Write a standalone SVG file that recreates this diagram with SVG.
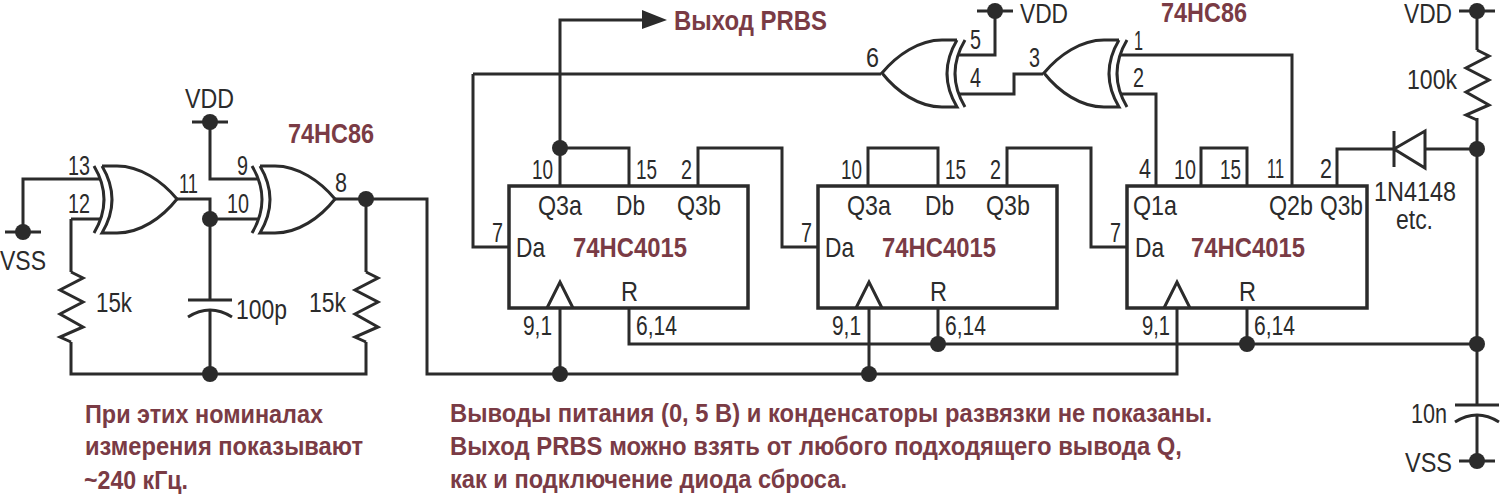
<svg xmlns="http://www.w3.org/2000/svg" width="1500" height="495" viewBox="0 0 1500 495">
<style>
text{font-family:"Liberation Sans",Arial,sans-serif;font-size:27.5px;fill:#2b2b2b}
.m{font-weight:bold;fill:#7a3b45;font-size:28px}
.n{font-weight:bold;fill:#7a3b45;font-size:26px}
.w,.s{fill:none;stroke:#2b2b2b;stroke-width:3;stroke-linejoin:miter}
.d{fill:#2b2b2b;stroke:none}
.b{fill:none;stroke:#2b2b2b;stroke-width:3.5}
</style>
<defs>
<g id="xor"><path class="w" d="M0,0H15C38,0 60,15 75,33C60,52 38,67 15,67H0Q20,33.5 0,0M-8,0Q12,33.5 -8,67"/></g>
<path id="res" class="w" d="M0,0L12,6L-11,18L12,30L-11,42L12,55L-11,65L0,70"/>
<g id="gnd"><path class="w" d="M-18,0H18"/><circle class="d" r="8"/></g>
<g id="cap"><path class="w" d="M-22,0H22M-22,17Q0,3 22,17"/></g>
</defs>

<g id="connectors">
<path class="w" d="M23,232V179H100M71,219H100M71,219V272M71,342V374H366V342M366,272V199"/>
<path class="w" d="M210,122V179H257M177,199H210V300M210,310V374M210,219H258"/>
<path class="w" d="M335,199H427V374H1177V308"/>
<path class="w" d="M560,374V308M869,374V308"/>
<path class="w" d="M473,74H881M473,74V247H509"/>
<path class="w" d="M560,186V20H645M560,148H629V186M698,186V148H782V247H818"/>
<path class="w" d="M868,186V148H938V186M1007,186V148H1091V247H1127"/>
<path class="w" d="M1201,186V148H1247V186"/>
<path class="w" d="M959,55H995V11M959,94H1014V74H1043M1121,55H1292V186M1121,94H1156V186"/>
<path class="w" d="M1337,186V149H1394M1425,149H1477"/>
<path class="w" d="M629,308V344H1477M938,308V344M1247,308V344"/>
<path class="w" d="M1477,11V50M1477,118V405M1477,415V461"/>
<polygon class="d" points="642,10 667,20 642,29"/>
<circle class="d" cx="210" cy="219" r="8"/>
<circle class="d" cx="210" cy="374" r="8"/>
<circle class="d" cx="366" cy="199" r="8"/>
<circle class="d" cx="560" cy="148" r="8"/>
<circle class="d" cx="560" cy="374" r="8"/>
<circle class="d" cx="869" cy="374" r="8"/>
<circle class="d" cx="938" cy="344" r="8"/>
<circle class="d" cx="1247" cy="344" r="8"/>
<circle class="d" cx="1477" cy="149" r="8"/>
<circle class="d" cx="1477" cy="344" r="8"/>
</g>

<g id="vss-left"><use href="#gnd" x="23" y="232"/><text x="0" y="270" textLength="46" lengthAdjust="spacingAndGlyphs">VSS</text></g>
<g id="vdd-left"><use href="#gnd" x="210" y="122"/><text x="185" y="108" textLength="49" lengthAdjust="spacingAndGlyphs">VDD</text></g>
<g id="vdd-top"><use href="#gnd" x="995" y="11"/><text x="1020" y="23" textLength="48" lengthAdjust="spacingAndGlyphs">VDD</text></g>
<g id="vdd-right"><use href="#gnd" x="1477" y="11"/><text x="1404" y="23" textLength="48" lengthAdjust="spacingAndGlyphs">VDD</text></g>
<g id="vss-right"><use href="#gnd" x="1477" y="461"/><text x="1405" y="472" textLength="47" lengthAdjust="spacingAndGlyphs">VSS</text></g>

<g id="xor-13-12">
<use href="#xor" x="102" y="166"/>
<text x="68" y="175" textLength="22" lengthAdjust="spacingAndGlyphs">13</text>
<text x="68" y="213" textLength="22" lengthAdjust="spacingAndGlyphs">12</text>
<text x="179" y="193" textLength="19" lengthAdjust="spacingAndGlyphs">11</text>
</g>
<g id="xor-9-10">
<use href="#xor" x="260" y="166"/>
<text x="237" y="175" textLength="11" lengthAdjust="spacingAndGlyphs">9</text>
<text x="227" y="213" textLength="22" lengthAdjust="spacingAndGlyphs">10</text>
<text x="335" y="192" textLength="12" lengthAdjust="spacingAndGlyphs">8</text>
<text class="m" x="288" y="143" textLength="86" lengthAdjust="spacingAndGlyphs">74HC86</text>
</g>
<g id="xor-5-4">
<use href="#xor" transform="translate(957,40) scale(-1,1)"/>
<text x="866" y="67" textLength="13" lengthAdjust="spacingAndGlyphs">6</text>
<text x="970" y="49" textLength="11" lengthAdjust="spacingAndGlyphs">5</text>
<text x="970" y="87" textLength="11" lengthAdjust="spacingAndGlyphs">4</text>
</g>
<g id="xor-1-2">
<use href="#xor" transform="translate(1119,40) scale(-1,1)"/>
<text x="1029" y="67" textLength="11" lengthAdjust="spacingAndGlyphs">3</text>
<text x="1134" y="50" textLength="9" lengthAdjust="spacingAndGlyphs">1</text>
<text x="1133" y="87" textLength="11" lengthAdjust="spacingAndGlyphs">2</text>
<text class="m" x="1161" y="22" textLength="86" lengthAdjust="spacingAndGlyphs">74HC86</text>
</g>

<g id="r1"><use href="#res" x="71" y="272"/><text x="96" y="312" textLength="36" lengthAdjust="spacingAndGlyphs">15k</text></g>
<g id="r2"><use href="#res" x="366" y="272"/><text x="309" y="312" textLength="37" lengthAdjust="spacingAndGlyphs">15k</text></g>
<g id="c1"><use href="#cap" x="210" y="300"/><text x="236" y="319" textLength="51" lengthAdjust="spacingAndGlyphs">100p</text></g>
<g id="r3"><use href="#res" x="1477" y="50"/><text x="1407" y="89" textLength="50" lengthAdjust="spacingAndGlyphs">100k</text></g>
<g id="c2"><use href="#cap" x="1477" y="405"/><text x="1411" y="423" textLength="36" lengthAdjust="spacingAndGlyphs">10n</text></g>
<g id="d1">
<path class="w" d="M1394,131V167M1425,131V168L1394,149Z"/>
<text x="1374" y="201" textLength="82" lengthAdjust="spacingAndGlyphs">1N4148</text>
<text x="1396" y="229" textLength="37" lengthAdjust="spacingAndGlyphs">etc.</text>
</g>

<g id="ic1">
<rect class="b" x="509" y="186" width="239" height="122"/>
<path class="w" d="M547,308L560,282L573,308"/>
<text x="532" y="179" textLength="21" lengthAdjust="spacingAndGlyphs">10</text>
<text x="636" y="179" textLength="21" lengthAdjust="spacingAndGlyphs">15</text>
<text x="681" y="179" textLength="11" lengthAdjust="spacingAndGlyphs">2</text>
<text x="538" y="215" textLength="44" lengthAdjust="spacingAndGlyphs">Q3a</text>
<text x="616" y="215" textLength="29" lengthAdjust="spacingAndGlyphs">Db</text>
<text x="677" y="215" textLength="44" lengthAdjust="spacingAndGlyphs">Q3b</text>
<text x="492" y="242" textLength="11" lengthAdjust="spacingAndGlyphs">7</text>
<text x="516" y="257" textLength="29" lengthAdjust="spacingAndGlyphs">Da</text>
<text class="m" x="573" y="257" textLength="114" lengthAdjust="spacingAndGlyphs">74HC4015</text>
<text x="621" y="301" textLength="17" lengthAdjust="spacingAndGlyphs">R</text>
<text x="523" y="335" textLength="29" lengthAdjust="spacingAndGlyphs">9,1</text>
<text x="636" y="335" textLength="41" lengthAdjust="spacingAndGlyphs">6,14</text>
</g>
<g id="ic2">
<rect class="b" x="818" y="186" width="239" height="122"/>
<path class="w" d="M856,308L869,282L882,308"/>
<text x="841" y="179" textLength="21" lengthAdjust="spacingAndGlyphs">10</text>
<text x="945" y="179" textLength="21" lengthAdjust="spacingAndGlyphs">15</text>
<text x="990" y="179" textLength="11" lengthAdjust="spacingAndGlyphs">2</text>
<text x="847" y="215" textLength="44" lengthAdjust="spacingAndGlyphs">Q3a</text>
<text x="925" y="215" textLength="29" lengthAdjust="spacingAndGlyphs">Db</text>
<text x="986" y="215" textLength="44" lengthAdjust="spacingAndGlyphs">Q3b</text>
<text x="801" y="242" textLength="11" lengthAdjust="spacingAndGlyphs">7</text>
<text x="825" y="257" textLength="29" lengthAdjust="spacingAndGlyphs">Da</text>
<text class="m" x="882" y="257" textLength="114" lengthAdjust="spacingAndGlyphs">74HC4015</text>
<text x="930" y="301" textLength="17" lengthAdjust="spacingAndGlyphs">R</text>
<text x="832" y="335" textLength="29" lengthAdjust="spacingAndGlyphs">9,1</text>
<text x="945" y="335" textLength="41" lengthAdjust="spacingAndGlyphs">6,14</text>
</g>
<g id="ic3">
<rect class="b" x="1127" y="186" width="240" height="122"/>
<path class="w" d="M1164,308L1177,282L1190,308"/>
<text x="1139" y="178" textLength="12" lengthAdjust="spacingAndGlyphs">4</text>
<text x="1174" y="179" textLength="22" lengthAdjust="spacingAndGlyphs">10</text>
<text x="1220" y="179" textLength="21" lengthAdjust="spacingAndGlyphs">15</text>
<text x="1267" y="178" textLength="17" lengthAdjust="spacingAndGlyphs">11</text>
<text x="1320" y="178" textLength="12" lengthAdjust="spacingAndGlyphs">2</text>
<text x="1133" y="215" textLength="44" lengthAdjust="spacingAndGlyphs">Q1a</text>
<text x="1269" y="215" textLength="44" lengthAdjust="spacingAndGlyphs">Q2b</text>
<text x="1320" y="215" textLength="43" lengthAdjust="spacingAndGlyphs">Q3b</text>
<text x="1110" y="242" textLength="11" lengthAdjust="spacingAndGlyphs">7</text>
<text x="1135" y="257" textLength="29" lengthAdjust="spacingAndGlyphs">Da</text>
<text class="m" x="1191" y="257" textLength="114" lengthAdjust="spacingAndGlyphs">74HC4015</text>
<text x="1239" y="301" textLength="17" lengthAdjust="spacingAndGlyphs">R</text>
<text x="1142" y="335" textLength="28" lengthAdjust="spacingAndGlyphs">9,1</text>
<text x="1254" y="335" textLength="41" lengthAdjust="spacingAndGlyphs">6,14</text>
</g>

<g id="notes">
<text class="m" x="674" y="30" textLength="153" lengthAdjust="spacingAndGlyphs">Выход PRBS</text>
<text class="n" x="85" y="423" textLength="238" lengthAdjust="spacingAndGlyphs">При этих номиналах</text>
<text class="n" x="85" y="455" textLength="278" lengthAdjust="spacingAndGlyphs">измерения показывают</text>
<text class="n" x="84" y="489" textLength="104" lengthAdjust="spacingAndGlyphs">~240 кГц.</text>
<text class="n" x="450" y="422" textLength="762" lengthAdjust="spacingAndGlyphs">Выводы питания (0, 5 В) и конденсаторы развязки не показаны.</text>
<text class="n" x="450" y="455" textLength="732" lengthAdjust="spacingAndGlyphs">Выход PRBS можно взять от любого подходящего вывода Q,</text>
<text class="n" x="450" y="488" textLength="397" lengthAdjust="spacingAndGlyphs">как и подключение диода сброса.</text>
</g>
</svg>
